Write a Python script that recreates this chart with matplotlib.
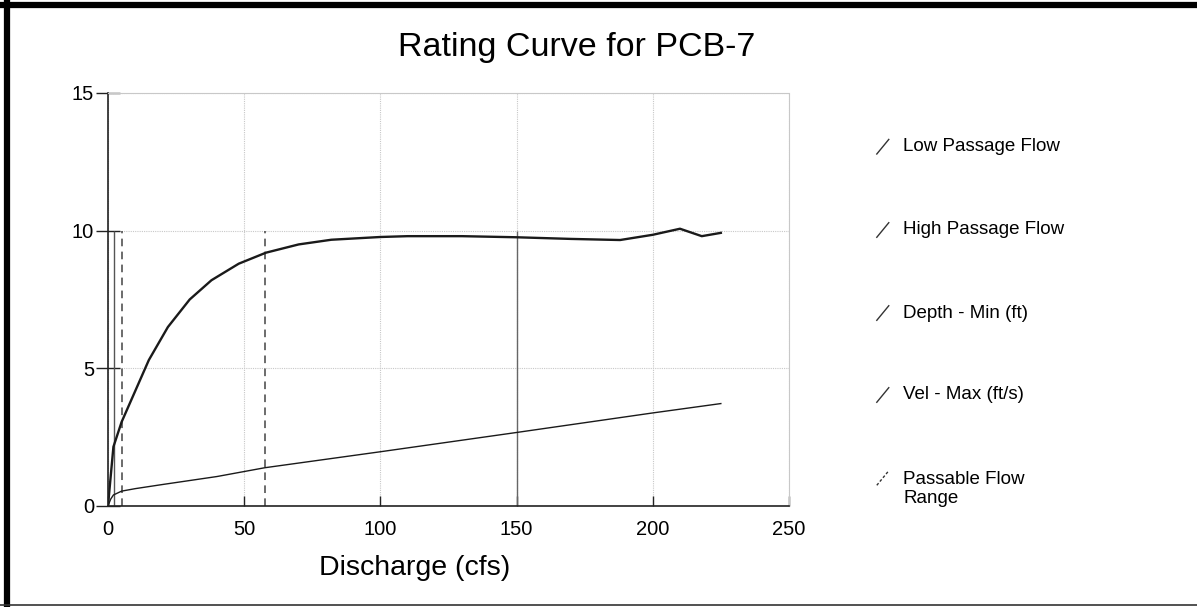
import matplotlib.pyplot as plt
from matplotlib.lines import Line2D

plt.rcParams['font.family'] = ['Liberation Sans', 'DejaVu Sans']

# depth curve (ft) vs discharge (cfs)
depth_q = [0, 2, 5, 15, 22, 30, 38, 48, 58, 70, 82, 100, 110, 130, 150, 170, 188, 200, 210, 218, 225]
depth_min = [0, 2.15, 3.05, 5.3, 6.5, 7.5, 8.2, 8.8, 9.2, 9.5, 9.67, 9.77, 9.8, 9.8, 9.76, 9.7, 9.66, 9.85, 10.07, 9.8, 9.92]

# velocity curve (ft/s) vs discharge (cfs)
vel_q = [0, 1, 2, 5, 10, 20, 40, 57.6, 100, 150, 200, 225]
vel_max = [0, 0.25, 0.4, 0.54, 0.63, 0.78, 1.07, 1.39, 1.97, 2.67, 3.38, 3.72]

low_passage = 2.1
high_passage = 150
passable_range = [5.0, 57.6]

legend_labels = ['Low Passage Flow', 'High Passage Flow', 'Depth - Min (ft)',
                 'Vel - Max (ft/s)', 'Passable Flow\nRange']

fig = plt.figure(figsize=(11.97, 6.07), dpi=100)
ax = fig.add_axes([0.0902, 0.1664, 0.5689, 0.6804])

ax.set_xlim(0, 250)
ax.set_ylim(0, 15)
ax.set_xticks([0, 50, 100, 150, 200, 250])
ax.set_yticks([0, 5, 10, 15])

ax.grid(True, color='#c8c8c8', linestyle=(0, (1, 1)), linewidth=0.8)
ax.set_axisbelow(True)
for side in ['top', 'right']:
    ax.spines[side].set_color('#c8c8c8')
    ax.spines[side].set_linestyle((0, (1, 1)))
    ax.spines[side].set_linewidth(0.8)
for side in ['left', 'bottom']:
    ax.spines[side].set_color('#222222')
    ax.spines[side].set_linewidth(1.2)

ax.tick_params(axis='y', direction='inout', length=17, width=1, pad=1.5,
               labelsize=14.5, color='#222222')
ax.tick_params(axis='x', direction='in', length=7, width=1, pad=10,
               labelsize=14.5, color='#222222')

# flow limit lines
ax.vlines(low_passage, 0, 10, color='#555555', linewidth=1.0)
ax.vlines(high_passage, 0, 10, color='#666666', linewidth=1.0)
ax.vlines(passable_range, 0, 10, color='#444444', linewidth=1.1,
          linestyle=(0, (5, 3.5)))

ax.plot(depth_q, depth_min, color='#1a1a1a', linewidth=1.7)
ax.plot(vel_q, vel_max, color='#1a1a1a', linewidth=1.0)

fig.text(0.4816, 0.922, 'Rating Curve for PCB-7', fontsize=24.5, ha='center', va='center')
fig.text(0.3467, 0.0643, 'Discharge (cfs)', fontsize=20.5, ha='center', va='center')

# legend drawn by hand on the right
leg_y = [0.7583, 0.6211, 0.4843, 0.3493, 0.1944]
styles = ['-', '-', '-', '-', (0, (2, 1.5))]
for lab, y, ls in zip(legend_labels, leg_y, styles):
    ly = 0.2125 if lab.startswith('Passable') else y
    fig.add_artist(Line2D([0.7325, 0.7425], [ly - 0.012, ly + 0.012],
                          transform=fig.transFigure, color='#333333',
                          linewidth=1.0, linestyle=ls))
    fig.text(0.7547, y, lab, fontsize=13.5, ha='left', va='center', linespacing=1.15)

# page frame
fig.add_artist(Line2D([0.0058, 0.0058], [0, 1], transform=fig.transFigure,
                      color='black', linewidth=4.5))
fig.add_artist(Line2D([0, 1], [0.992, 0.992], transform=fig.transFigure,
                      color='black', linewidth=4.5))
fig.add_artist(Line2D([0, 1], [0.003, 0.003], transform=fig.transFigure,
                      color='#333333', linewidth=1.2))

fig.savefig('out.png', dpi=100, facecolor='white')
